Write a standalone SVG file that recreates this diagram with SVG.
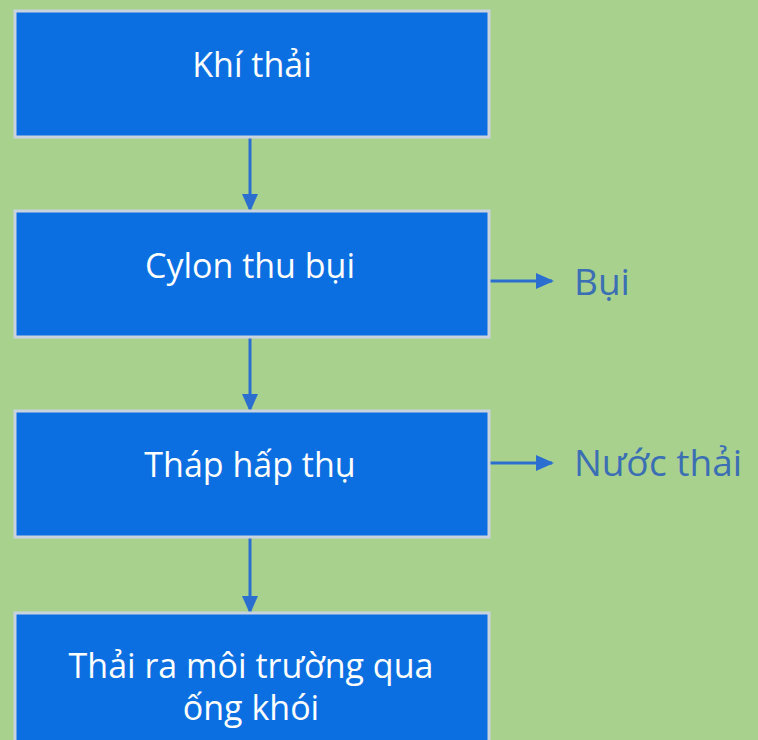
<svg xmlns="http://www.w3.org/2000/svg" width="758" height="740" viewBox="0 0 758 740">
<defs>
<style>
.box{fill:#0b6fe2;stroke:#c9d3df;stroke-width:3}
.t{fill:#ffffff;font-family:"Open Sans","Noto Sans",sans-serif;font-size:34px;text-anchor:middle}
.lbl{fill:#3b6fb4;font-family:"Open Sans","Noto Sans",sans-serif;font-size:37px}
.c{stroke:#2a6fd0;stroke-width:3;fill:none}
</style>
<marker id="ah2" markerWidth="18" markerHeight="16" refX="16" refY="8" orient="auto" markerUnits="userSpaceOnUse" viewBox="0 0 18 16">
<path d="M0,0 L18,8 L0,16 z" fill="#2a6fd0"/>
</marker>
</defs>
<rect width="758" height="740" fill="#a9d18e"/>
<g id="connectors">
<line class="c" x1="250" y1="137" x2="250" y2="210" marker-end="url(#ah2)"/>
<line class="c" x1="250" y1="337" x2="250" y2="410" marker-end="url(#ah2)"/>
<line class="c" x1="250" y1="537" x2="250" y2="612" marker-end="url(#ah2)"/>
<line class="c" x1="489" y1="281" x2="552" y2="281" marker-end="url(#ah2)"/>
<line class="c" x1="489" y1="463" x2="552" y2="463" marker-end="url(#ah2)"/>
</g>
<g id="n1"><rect class="box" x="15" y="11" width="474" height="126"/><text class="t" x="252" y="77">Khí thải</text></g>
<g id="n2"><rect class="box" x="15" y="211" width="474" height="126"/><text class="t" x="250" y="278">Cylon thu bụi</text></g>
<g id="n3"><rect class="box" x="15" y="411" width="474" height="126"/><text class="t" x="250" y="477">Tháp hấp thụ</text></g>
<g id="n4"><rect class="box" x="15" y="613" width="474" height="140"/><text class="t" x="251" y="678">Thải ra môi trường qua</text><text class="t" x="251" y="720">ống khói</text></g>
<g id="bui"><text class="lbl" x="574" y="295">Bụi</text></g>
<g id="nuoc"><text class="lbl" x="574" y="476">Nước thải</text></g>
</svg>
